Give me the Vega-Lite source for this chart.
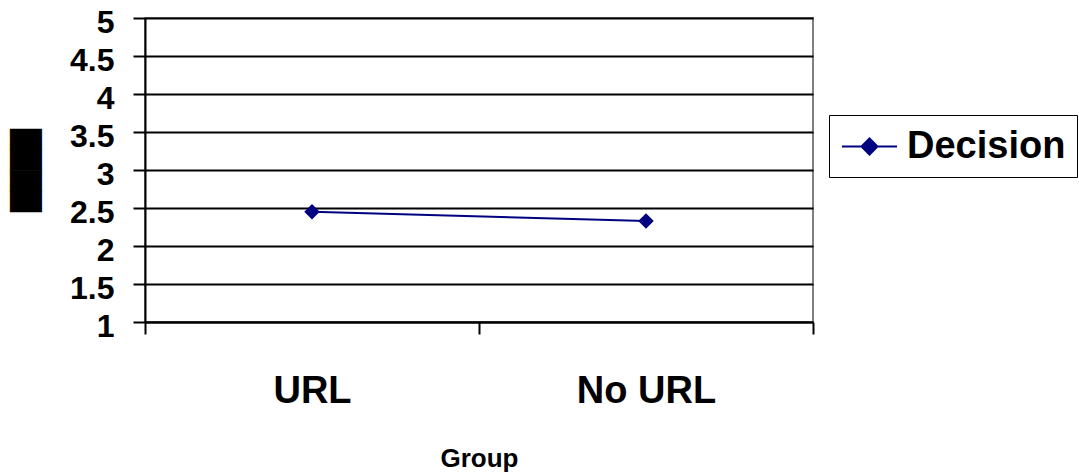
{
  "$schema": "https://vega.github.io/schema/vega-lite/v6.json",
  "width": 668,
  "height": 304,
  "autosize": {"type": "none"},
  "padding": {"left": 145, "top": 18, "right": 266, "bottom": 151},
  "background": "white",
  "config": {
    "view": {"stroke": "#808080", "strokeWidth": 2},
    "font": "Liberation Sans"
  },
  "data": {
    "values": [
      {"Group": "URL", "Series": "Decision", "Score": 2.45},
      {"Group": "No URL", "Series": "Decision", "Score": 2.33}
    ]
  },
  "encoding": {
    "x": {
      "field": "Group",
      "type": "nominal",
      "sort": ["URL", "No URL"],
      "scale": {"paddingInner": 0, "paddingOuter": 0},
      "axis": {
        "title": "Group",
        "titleFont": "Liberation Sans",
        "titleFontSize": 26,
        "titleFontWeight": "bold",
        "titleColor": "black",
        "titlePadding": 35,
        "labelAngle": 0,
        "labelFont": "Liberation Sans",
        "labelFontSize": 38,
        "labelFontWeight": "bold",
        "labelColor": "black",
        "labelPadding": 38,
        "tickBand": "extent",
        "tickSize": 12,
        "tickWidth": 2,
        "tickColor": "black",
        "domainColor": "black",
        "domainWidth": 2,
        "grid": false
      }
    },
    "y": {
      "field": "Score",
      "type": "quantitative",
      "scale": {"domain": [1, 5], "nice": false, "zero": false},
      "axis": {
        "title": "████",
        "titleFont": "DejaVu Sans",
        "titleFontSize": 27,
        "titleFontWeight": "normal",
        "titleColor": "black",
        "titleAngle": -90,
        "titleX": -119,
        "titleY": 152,
        "titleAlign": "center",
        "titleBaseline": "middle",
        "values": [1, 1.5, 2, 2.5, 3, 3.5, 4, 4.5, 5],
        "format": "~g",
        "labelFont": "Liberation Sans",
        "labelFontSize": 32,
        "labelFontWeight": "bold",
        "labelColor": "black",
        "labelPadding": 19,
        "labelBaseline": "middle",
        "labelOffset": 4,
        "labelFlush": false,
        "labelOverlap": false,
        "tickSize": 12,
        "tickWidth": 2,
        "tickColor": "black",
        "domainColor": "black",
        "domainWidth": 2,
        "grid": true,
        "gridColor": "black",
        "gridWidth": 2
      }
    },
    "color": {
      "field": "Series",
      "type": "nominal",
      "scale": {"range": ["#000080"]},
      "legend": {
        "title": null,
        "orient": "none",
        "legendX": 684,
        "legendY": 97,
        "padding": 11.5,
        "strokeColor": "black",
        "fillColor": "white",
        "symbolType": "M-1.45,0H1.45M-0.42,0L0,-0.42L0.42,0L0,0.42Z",
        "symbolSize": 1444,
        "symbolOffset": 9,
        "symbolStrokeWidth": 2,
        "symbolStrokeColor": "#000080",
        "symbolFillColor": "#000080",
        "symbolOpacity": 1,
        "labelFont": "Liberation Sans",
        "labelFontSize": 38,
        "labelFontWeight": "bold",
        "labelColor": "black",
        "labelOffset": 17.5,
        "labelLimit": 300
      }
    }
  },
  "layer": [
    {"mark": {"type": "line", "strokeWidth": 2}},
    {"mark": {"type": "point", "shape": "diamond", "filled": true, "size": 240, "opacity": 1}}
  ]
}
